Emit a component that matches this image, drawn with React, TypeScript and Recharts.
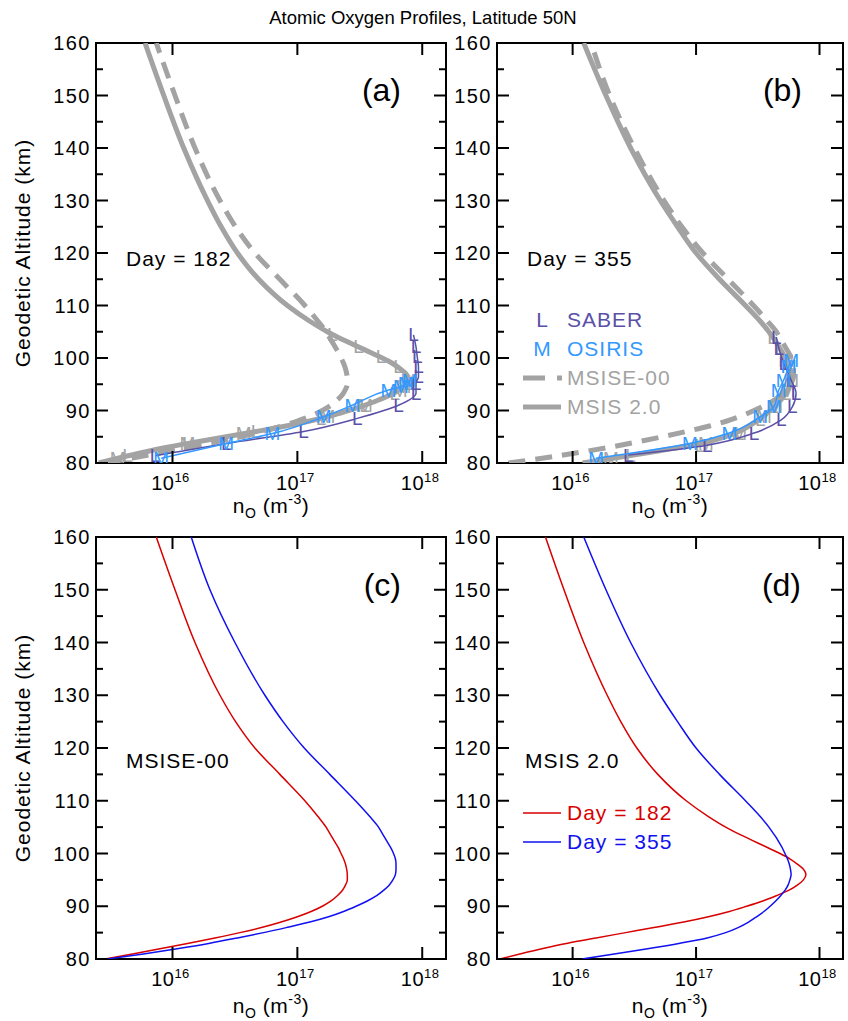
import React from 'react';
import { ScatterChart, Scatter, XAxis, YAxis, ReferenceArea } from 'recharts';

const FONT = '"Liberation Sans", Arial, Helvetica, sans-serif';

// ---------- axes ----------
const Y_TICKS = [80, 85, 90, 95, 100, 105, 110, 115, 120, 125, 130, 135, 140, 145, 150, 155, 160];
const Y_DOMAIN = [80, 160];
const X_TICKS = [1e16, 1e17, 1e18];
const X_TICK_EXP = ['16', '17', '18'];
const X_DOMAIN = [2.44e15, 1.55e18];

// ---------- model profiles (altitude km, log10 n_O in m^-3) ----------
const ALT_GRID = [80, 81, 82, 83, 84, 85, 86, 87, 88, 89, 90, 91, 92, 93, 94, 95, 96, 97, 98, 99, 100,
  101, 102, 103, 104, 105, 107, 110, 115, 120, 125, 130, 140, 150, 160];

const MSISE00_D182_LOG = [15.46, 15.69, 15.91, 16.13, 16.34, 16.54, 16.72, 16.87, 17.00, 17.11, 17.20,
  17.27, 17.32, 17.36, 17.385, 17.40, 17.40, 17.395, 17.385, 17.37, 17.35,
  17.33, 17.305, 17.28, 17.255, 17.23, 17.165, 17.06, 16.86, 16.66, 16.505, 16.38, 16.18, 16.02, 15.87];

const MSISE00_D355_LOG = [15.48, 15.78, 16.05, 16.30, 16.52, 16.73, 16.92, 17.10, 17.25, 17.37, 17.47,
  17.56, 17.635, 17.69, 17.735, 17.765, 17.785, 17.79, 17.79, 17.785, 17.77,
  17.75, 17.725, 17.70, 17.675, 17.65, 17.58, 17.465, 17.26, 17.055, 16.885, 16.74, 16.50, 16.30, 16.15];

const MSIS20_D182_LOG = [15.41, 15.58, 15.76, 15.96, 16.19, 16.43, 16.67, 16.90, 17.10, 17.27, 17.41,
  17.54, 17.65, 17.75, 17.82, 17.87, 17.89, 17.87, 17.82, 17.76, 17.68,
  17.59, 17.50, 17.41, 17.32, 17.24, 17.10, 16.92, 16.69, 16.52, 16.39, 16.28, 16.09, 15.93, 15.78];

const MSIS20_D355_LOG = [16.08, 16.35, 16.62, 16.87, 17.09, 17.24, 17.345, 17.425, 17.49, 17.55, 17.60,
  17.645, 17.685, 17.72, 17.745, 17.76, 17.77, 17.765, 17.755, 17.74, 17.72,
  17.70, 17.675, 17.65, 17.62, 17.59, 17.52, 17.40, 17.19, 17.00, 16.85, 16.71, 16.47, 16.27, 16.09];

// ---------- observations (and MSIS 2.0 sampled at the same altitudes, grey letters) ----------
const SABER_D182_ALT = [81.4, 83.7, 86.0, 88.5, 91.0, 93.3, 95.2, 96.4, 98.3, 100.2, 102.1, 104.4];
const SABER_D182_LOG = [15.86, 16.43, 17.05, 17.48, 17.81, 17.95, 17.95, 17.97, 17.97, 17.96, 17.95, 17.93];
const SABER_D182_MSIS_LOG = [15.64, 16.12, 16.67, 17.19, 17.54, 17.78, 17.87, 17.88, 17.81, 17.67, 17.49, 17.28];

const OSIRIS_D182_ALT = [80.9, 83.7, 85.6, 88.8, 91.0, 93.9, 94.5, 95.2, 95.8];
const OSIRIS_D182_LOG = [15.91, 16.43, 16.80, 17.21, 17.44, 17.73, 17.83, 17.87, 17.90];
const OSIRIS_D182_MSIS_LOG = [15.56, 16.12, 16.57, 17.24, 17.54, 17.82, 17.85, 17.87, 17.89];

const SABER_D355_ALT = [81.5, 83.4, 85.7, 88.2, 90.7, 93.3, 95.8, 99.0, 101.9, 104.0];
const SABER_D355_LOG = [16.45, 17.09, 17.47, 17.69, 17.78, 17.81, 17.77, 17.71, 17.67, 17.65];
const SABER_D355_MSIS_LOG = [16.47, 17.03, 17.35, 17.52, 17.63, 17.73, 17.77, 17.74, 17.68, 17.62];

const OSIRIS_D355_ALT = [80.9, 83.7, 85.7, 88.8, 90.7, 93.9, 95.8, 98.3, 99.6];
const OSIRIS_D355_LOG = [16.19, 16.95, 17.27, 17.52, 17.63, 17.67, 17.71, 17.75, 17.77];
const OSIRIS_D355_MSIS_LOG = [16.31, 17.08, 17.35, 17.55, 17.64, 17.74, 17.77, 17.75, 17.73];

// ---------- colours ----------
const GRAY = '#a3a3a3';
const RED = '#d80000';
const BLUE = '#1010f0';
const SABER_C = '#5a50a8';
const OSIRIS_C = '#3399ff';

type Pt = { alt: number; n: number };
const build = (alts: number[], logs: number[]): Pt[] =>
  alts.map((a, i) => ({ alt: a, n: Math.pow(10, logs[i]) }));

const mE00_182 = build(ALT_GRID, MSISE00_D182_LOG);
const mE00_355 = build(ALT_GRID, MSISE00_D355_LOG);
const m20_182 = build(ALT_GRID, MSIS20_D182_LOG);
const m20_355 = build(ALT_GRID, MSIS20_D355_LOG);
const saber182 = build(SABER_D182_ALT, SABER_D182_LOG);
const saber182m = build(SABER_D182_ALT, SABER_D182_MSIS_LOG);
const osiris182 = build(OSIRIS_D182_ALT, OSIRIS_D182_LOG);
const osiris182m = build(OSIRIS_D182_ALT, OSIRIS_D182_MSIS_LOG);
const saber355 = build(SABER_D355_ALT, SABER_D355_LOG);
const saber355m = build(SABER_D355_ALT, SABER_D355_MSIS_LOG);
const osiris355 = build(OSIRIS_D355_ALT, OSIRIS_D355_LOG);
const osiris355m = build(OSIRIS_D355_ALT, OSIRIS_D355_MSIS_LOG);

type Series = {
  data: Pt[];
  color: string;
  width?: number;
  dash?: string;
  line?: boolean;
  marker?: string;
};

const NoShape = () => <g />;

const letterShape = (ch: string, color: string) => (props: any) => {
  const { cx, cy } = props;
  if (cx == null || cy == null) return <g />;
  return (
    <text x={cx} y={cy} textAnchor="middle" dominantBaseline="central" fill={color}
      fontSize={19} fontFamily={FONT}>{ch}</text>
  );
};

const TICK_FONT = 20;

function ProfilePanel({ L, T, R, B, series }: { L: number; T: number; R: number; B: number; series: Series[] }) {
  const plotW = R - L;
  const plotH = B - T;
  const xTick = (p: any) => {
    const { x, y, payload, index } = p;
    const idx = X_TICKS.indexOf(payload.value);
    const lab = X_TICK_EXP[idx >= 0 ? idx : index];
    return (
      <g>
        <line x1={x} y1={y} x2={x} y2={y - 12} stroke="#000" strokeWidth={2} />
        <line x1={x} y1={y - plotH} x2={x} y2={y - plotH + 12} stroke="#000" strokeWidth={2} />
        <text x={x - 2} y={y + 27} textAnchor="middle" fontSize={TICK_FONT} fontFamily={FONT} fill="#000"
          letterSpacing={0.5}>
          10<tspan dy={-8} fontSize={13}>{lab}</tspan>
        </text>
      </g>
    );
  };
  const yTick = (p: any) => {
    const { x, y, payload } = p;
    const v = payload.value;
    const major = v % 10 === 0;
    const len = major ? 12 : 7;
    return (
      <g>
        <line x1={x} y1={y} x2={x + len} y2={y} stroke="#000" strokeWidth={2} />
        <line x1={x + plotW} y1={y} x2={x + plotW - len} y2={y} stroke="#000" strokeWidth={2} />
        {major && (
          <text x={x - 5} y={y} textAnchor="end" dominantBaseline="central" fontSize={TICK_FONT}
            fontFamily={FONT} fill="#000" letterSpacing={1.5}>{v}</text>
        )}
      </g>
    );
  };
  return (
    <div style={{ position: 'absolute', left: L - 60, top: T - 10 }}>
      <ScatterChart width={plotW + 70} height={plotH + 50} margin={{ top: 10, right: 10, bottom: 0, left: 0 }}>
        <XAxis type="number" dataKey="n" scale="log" domain={X_DOMAIN} ticks={X_TICKS} interval={0}
          allowDataOverflow axisLine={false} tickLine={false} tickSize={0} tickMargin={0} height={40} tick={xTick} />
        <YAxis type="number" dataKey="alt" domain={Y_DOMAIN} ticks={Y_TICKS} interval={0}
          allowDataOverflow axisLine={false} tickLine={false} tickSize={0} tickMargin={0} width={60} tick={yTick} />
        <ReferenceArea x1={X_DOMAIN[0]} x2={X_DOMAIN[1]} y1={Y_DOMAIN[0]} y2={Y_DOMAIN[1]}
          fill="none" fillOpacity={0} stroke="#000" strokeWidth={2} ifOverflow="visible" />
        {series.map((s, i) => (
          <Scatter key={i} data={s.data} fill={s.color} isAnimationActive={false}
            line={s.line ? { stroke: s.color, strokeWidth: s.width ?? 1.5, strokeDasharray: s.dash, fill: 'none' } : false}
            lineJointType="monotoneY"
            shape={s.marker ? letterShape(s.marker, s.color) : NoShape} />
        ))}
      </ScatterChart>
    </div>
  );
}

const PANEL_A = { L: 96, T: 43, R: 446, B: 463 };
const PANEL_B = { L: 497, T: 43, R: 843, B: 463 };
const PANEL_C = { L: 96, T: 537, R: 446, B: 959 };
const PANEL_D = { L: 497, T: 537, R: 843, B: 959 };

const DASH = '17 10';

const seriesA: Series[] = [
  { data: mE00_182, color: GRAY, width: 5, dash: DASH, line: true },
  { data: m20_182, color: GRAY, width: 5, line: true },
  { data: saber182m, color: GRAY, marker: 'L' },
  { data: osiris182m, color: GRAY, marker: 'M' },
  { data: saber182, color: SABER_C, width: 1.5, line: true, marker: 'L' },
  { data: osiris182, color: OSIRIS_C, width: 1.5, line: true, marker: 'M' },
];
const seriesB: Series[] = [
  { data: mE00_355, color: GRAY, width: 5, dash: DASH, line: true },
  { data: m20_355, color: GRAY, width: 5, line: true },
  { data: saber355m, color: GRAY, marker: 'L' },
  { data: osiris355m, color: GRAY, marker: 'M' },
  { data: saber355, color: SABER_C, width: 1.5, line: true, marker: 'L' },
  { data: osiris355, color: OSIRIS_C, width: 1.5, line: true, marker: 'M' },
];
const seriesC: Series[] = [
  { data: mE00_182, color: RED, width: 1.5, line: true },
  { data: mE00_355, color: BLUE, width: 1.5, line: true },
];
const seriesD: Series[] = [
  { data: m20_182, color: RED, width: 1.5, line: true },
  { data: m20_355, color: BLUE, width: 1.5, line: true },
];

const T = (props: any) => <text fontFamily={FONT} {...props} />;

function XLabel({ cx, y }: { cx: number; y: number }) {
  return (
    <T x={cx} y={y} textAnchor="middle" fontSize={21} fill="#000" letterSpacing={0.5}>
      n<tspan dy={5} fontSize={14}>O</tspan><tspan dy={-5}> (m</tspan>
      <tspan dy={-9} fontSize={14}>-3</tspan><tspan dy={9}>)</tspan>
    </T>
  );
}

function YLabel({ cy }: { cy: number }) {
  return (
    <T x={30} y={cy} textAnchor="middle" fontSize={21} fill="#000" letterSpacing={1}
      transform={`rotate(-90, 30, ${cy})`}>Geodetic Altitude (km)</T>
  );
}

export default function App() {
  return (
    <div style={{ position: 'absolute', left: 0, top: 0, width: 848, height: 1021, background: '#fff' }}>
      <ProfilePanel {...PANEL_A} series={seriesA} />
      <ProfilePanel {...PANEL_B} series={seriesB} />
      <ProfilePanel {...PANEL_C} series={seriesC} />
      <ProfilePanel {...PANEL_D} series={seriesD} />
      <svg width={848} height={1021} style={{ position: 'absolute', left: 0, top: 0, pointerEvents: 'none' }}>
        <T x={423} y={24} textAnchor="middle" fontSize={18.5} fill="#000">Atomic Oxygen Profiles, Latitude 50N</T>

        <YLabel cy={253} />
        <YLabel cy={748} />
        <XLabel cx={271} y={513} />
        <XLabel cx={670} y={513} />
        <XLabel cx={271} y={1013} />
        <XLabel cx={670} y={1013} />

        <T x={401} y={101} textAnchor="end" fontSize={32} fill="#000">(a)</T>
        <T x={802} y={101} textAnchor="end" fontSize={32} fill="#000">(b)</T>
        <T x={401} y={596} textAnchor="end" fontSize={32} fill="#000">(c)</T>
        <T x={801} y={596} textAnchor="end" fontSize={32} fill="#000">(d)</T>

        <T x={126} y={266} fontSize={21} fill="#000" letterSpacing={1}>Day = 182</T>
        <T x={527} y={266} fontSize={21} fill="#000" letterSpacing={1}>Day = 355</T>
        <T x={126} y={768} fontSize={21} fill="#000" letterSpacing={1}>MSISE-00</T>
        <T x={525} y={768} fontSize={21} fill="#000" letterSpacing={1}>MSIS 2.0</T>

        {/* legend (b) */}
        <T x={542} y={327} textAnchor="middle" fontSize={21} fill={SABER_C}>L</T>
        <T x={567} y={327} fontSize={21} fill={SABER_C} letterSpacing={1}>SABER</T>
        <T x={542} y={356} textAnchor="middle" fontSize={21} fill={OSIRIS_C}>M</T>
        <T x={567} y={356} fontSize={21} fill={OSIRIS_C} letterSpacing={1}>OSIRIS</T>
        <line x1={523} y1={378} x2={562} y2={378} stroke={GRAY} strokeWidth={5} strokeDasharray="22 12" />
        <T x={567} y={385} fontSize={21} fill={GRAY} letterSpacing={1}>MSISE-00</T>
        <line x1={523} y1={407} x2={561} y2={407} stroke={GRAY} strokeWidth={5} />
        <T x={567} y={414} fontSize={21} fill={GRAY} letterSpacing={1}>MSIS 2.0</T>

        {/* legend (d) */}
        <line x1={523} y1={813} x2={561} y2={813} stroke={RED} strokeWidth={1.5} />
        <T x={567} y={820} fontSize={21} fill={RED} letterSpacing={1}>Day = 182</T>
        <line x1={523} y1={842} x2={561} y2={842} stroke={BLUE} strokeWidth={1.5} />
        <T x={567} y={849} fontSize={21} fill={BLUE} letterSpacing={1}>Day = 355</T>
      </svg>
    </div>
  );
}
